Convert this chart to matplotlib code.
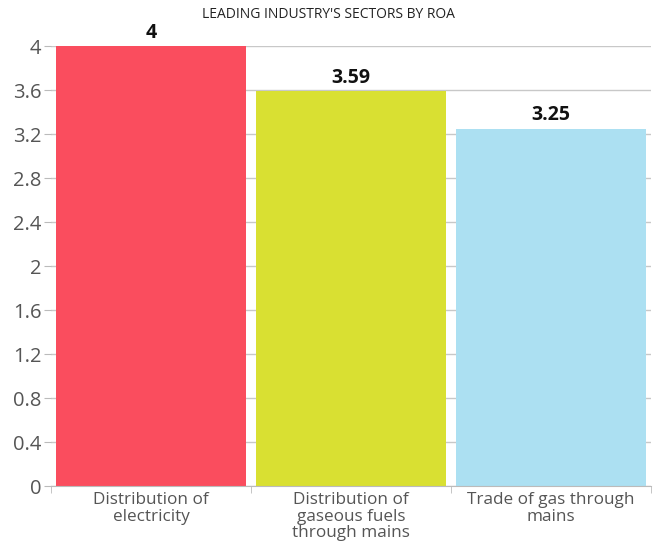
import matplotlib
matplotlib.use("Agg")
import matplotlib.pyplot as plt
import numpy as np

plt.rcParams["font.family"] = ["Open Sans", "DejaVu Sans"]

# --- data ---
categories = ["Distribution of\nelectricity",
              "Distribution of\ngaseous fuels\nthrough mains",
              "Trade of gas through\nmains"]
roa = [4.0, 3.59, 3.25]
value_labels = ["4", "3.59", "3.25"]
colors = ["#fa4d5e", "#d9e032", "#ace0f2"]
yticks = [0, 0.4, 0.8, 1.2, 1.6, 2, 2.4, 2.8, 3.2, 3.6, 4]
ytick_labels = ["0", "0.4", "0.8", "1.2", "1.6", "2", "2.4", "2.8", "3.2", "3.6", "4"]

W, H = 657, 547
fig = plt.figure(figsize=(W / 100, H / 100), dpi=100)
ax = fig.add_axes([51 / W, (H - 486) / H, 600 / W, 440 / H])

x = np.arange(len(categories))
ax.bar(x, roa, width=0.95, color=colors, zorder=2)

for xi, v, lab in zip(x, roa, value_labels):
    ax.text(xi, v + 0.03, lab, ha="center", va="bottom",
            fontsize=14, fontweight="bold", color="#111111")

ax.set_xlim(-0.5, len(categories) - 0.5)
ax.set_ylim(0, 4)
ax.set_yticks(yticks)
ax.set_yticklabels(ytick_labels, fontsize=14.5, color="#555555")
ax.grid(axis="y", color="#c8c8c8", linewidth=1, zorder=0)

# category labels between boundary ticks
ax.set_xticks(x)
ax.set_xticklabels(categories, fontsize=12.3, color="#555555", linespacing=1.08)
ax.tick_params(axis="x", length=0, pad=4)
ax.set_xticks(np.arange(len(categories) + 1) - 0.5, minor=True)
ax.tick_params(axis="x", which="minor", length=5, color="#bbbbbb")
ax.tick_params(axis="y", length=5, color="#bbbbbb", pad=2)

for s in ["top", "right", "left"]:
    ax.spines[s].set_visible(False)
ax.spines["bottom"].set_color("#bbbbbb")

fig.text(0.5, 1 - 15 / H, "LEADING INDUSTRY'S SECTORS BY ROA",
         ha="center", va="center", fontsize=10, color="#222222")

fig.savefig("out.png", dpi=100)
